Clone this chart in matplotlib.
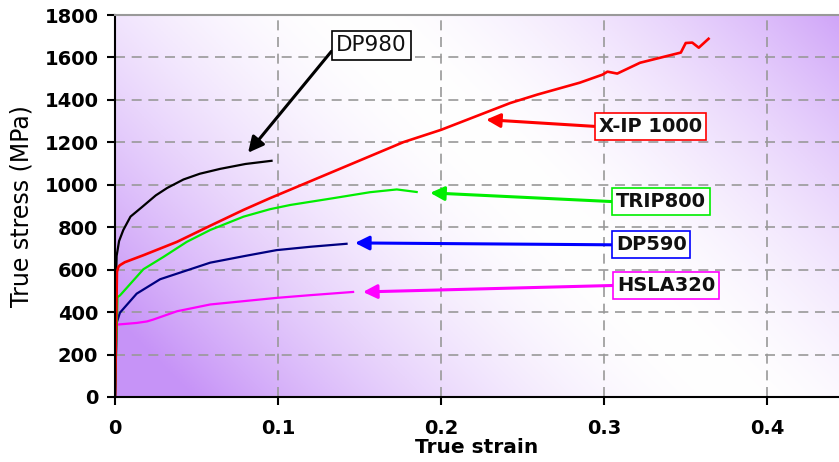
import numpy as np
import matplotlib
matplotlib.use("Agg")
import matplotlib.pyplot as plt

# curves (true strain, true stress in MPa)
dp980_strain = [0, 0.0008, 0.001, 0.0025, 0.0051, 0.0095, 0.0164, 0.025, 0.032, 0.042, 0.052, 0.0645, 0.08, 0.096]
dp980_stress = [0, 610, 665, 735, 787, 850, 894, 950, 985, 1025, 1052, 1075, 1098, 1113]

xip_strain = [0, 0.0012, 0.002, 0.003, 0.006, 0.0174, 0.038, 0.0584, 0.0789, 0.0951, 0.1769, 0.2,
              0.2423, 0.259, 0.285, 0.299, 0.302, 0.308, 0.322, 0.347, 0.350, 0.354, 0.358, 0.364]
xip_stress = [0, 590, 612, 621, 635, 668, 731, 807, 882, 937, 1201, 1259,
              1385, 1425, 1481, 1519, 1533, 1524, 1575, 1623, 1668, 1670, 1646, 1688]

trip_strain = [0, 0.0015, 0.0031, 0.0174, 0.0297, 0.044, 0.0584, 0.0789, 0.0951, 0.1076, 0.134, 0.1564, 0.1728, 0.185]
trip_stress = [0, 470, 479, 602, 660, 731, 787, 850, 885, 905, 937, 965, 978, 966]

dp590_strain = [0, 0.001, 0.003, 0.0133, 0.0277, 0.0584, 0.08, 0.099, 0.12, 0.142]
dp590_stress = [0, 349, 397, 487, 555, 633, 665, 692, 708, 722]

hsla_strain = [0, 0.001, 0.0133, 0.0196, 0.0235, 0.038, 0.0584, 0.099, 0.12, 0.146]
hsla_stress = [0, 341, 349, 356, 365, 404, 436, 467, 480, 495]

# labels: name, arrow tip (strain, stress), box centre (strain, stress)
labels = ["DP980", "X-IP 1000", "TRIP800", "DP590", "HSLA320"]
label_tips = [(0.0816, 1151), (0.2276, 1307), (0.1933, 962), (0.1472, 726), (0.1521, 495)]
label_pos = [(0.1574, 1657), (0.3282, 1274), (0.3347, 920), (0.3288, 717), (0.338, 526)]
label_colors = ["black", "#ff0000", "#00ee00", "#0000ff", "#ff00ff"]

x_ticks = [0, 0.1, 0.2, 0.3, 0.4]
x_ticklabels = ["0", "0.1", "0.2", "0.3", "0.4"]
y_ticks = list(range(0, 1801, 200))

fig = plt.figure(figsize=(8.39, 4.62), dpi=100)
ax = fig.add_axes([115 / 839, 65 / 462, 724 / 839, 382 / 462])

# purple - white - purple diagonal background
w, h = 724, 382
px, py = np.meshgrid(np.linspace(0, w, 300), np.linspace(h, 0, 200))
t = np.clip(np.abs(px + py - 620) / 540, 0, 1) ** 1.7
purple = np.array([0.78, 0.58, 0.97])
img = 1 - t[..., None] * (1 - purple)
ax.imshow(img, extent=[0, 1, 0, 1], transform=ax.transAxes, aspect="auto", zorder=0)

ax.plot(hsla_strain, hsla_stress, color="#ff00ff", lw=1.6, zorder=3)
ax.plot(dp590_strain, dp590_stress, color="#000080", lw=1.6, zorder=3)
ax.plot(trip_strain, trip_stress, color="#00ee00", lw=1.6, zorder=3)
ax.plot(dp980_strain, dp980_stress, color="black", lw=1.6, zorder=3)
ax.plot(xip_strain, xip_stress, color="#ff0000", lw=1.9, zorder=4)

for i, name in enumerate(labels):
    bold = "normal" if name == "DP980" else "bold"
    size = 15.5 if name == "DP980" else 14
    ax.annotate(name, xy=label_tips[i], xytext=label_pos[i], ha="center", va="center",
                fontsize=size, fontweight=bold, color="#111111", zorder=6,
                bbox=dict(boxstyle="square,pad=0.2", fc="white", ec=label_colors[i], lw=1.2),
                arrowprops=dict(arrowstyle="-|>,head_length=0.6,head_width=0.3", color=label_colors[i],
                                lw=2.2, shrinkA=0, shrinkB=0, relpos=(0, 0.5)))

ax.set_xlim(0, 0.444)
ax.set_ylim(0, 1800)
ax.set_xticks(x_ticks)
ax.set_xticklabels(x_ticklabels)
ax.set_yticks(y_ticks)
ax.grid(True, color="#999999", ls=(0, (6, 4)), lw=1.2)
for g in ax.get_xgridlines() + ax.get_ygridlines():
    g.set_zorder(1)
# no grid on the axis lines themselves
ax.get_xgridlines()[0].set_visible(False)
ax.get_ygridlines()[0].set_visible(False)
ax.get_ygridlines()[-1].set_visible(False)

ax.spines["right"].set_visible(False)
ax.spines["top"].set_color("#999999")
for s in ["top", "left", "bottom"]:
    ax.spines[s].set_linewidth(1.5)
    ax.spines[s].set_zorder(5)
ax.tick_params(direction="out", length=6, width=1.5, labelsize=14)
ax.tick_params(axis="x", pad=10)
ax.tick_params(axis="y", pad=6)
for lab in ax.get_xticklabels() + ax.get_yticklabels():
    lab.set_fontweight("bold")

ax.set_xlabel("True strain", fontsize=14.5, fontweight="bold", labelpad=0)
ax.set_ylabel("True stress (MPa)", fontsize=17, labelpad=8)

fig.savefig("out.png", dpi=100)
